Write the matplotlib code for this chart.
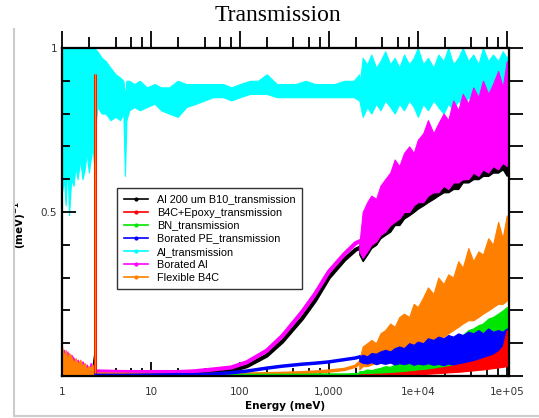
import matplotlib
matplotlib.use("Agg")
import matplotlib.pyplot as plt
from matplotlib.lines import Line2D

# ---- data (energy in meV, transmission) ----
# low-energy part, E = 1 .. 2.3 meV
e_lo = [1.0, 1.05, 1.1, 1.15, 1.2, 1.27, 1.35, 1.42, 1.5, 1.6, 1.7, 1.8, 1.9, 2.0, 2.1, 2.2, 2.3]
orange_lo = [0.09, 0.06, 0.08, 0.05, 0.07, 0.06, 0.04, 0.055, 0.035, 0.05, 0.03, 0.04, 0.02, 0.03, 0.025, 0.035, 0.02]
magenta_lo = [0.07, 0.08, 0.06, 0.075, 0.05, 0.065, 0.055, 0.04, 0.05, 0.03, 0.045, 0.03, 0.035, 0.02, 0.04, 0.02, 0.03]
black_lo = [0.02, 0.015, 0.02, 0.01, 0.015, 0.01, 0.012, 0.01, 0.015, 0.01, 0.012, 0.01, 0.015, 0.01, 0.02, 0.03, 0.07]
cyan_lo_min = [0.56, 0.60, 0.52, 0.65, 0.49, 0.60, 0.58, 0.64, 0.60, 0.66, 0.60, 0.63, 0.68, 0.62, 0.66, 0.70, 0.64]

# narrow resonance spike (B4C+Epoxy / Flexible B4C)
spike_e = 2.35
spike_top = 0.92

# cyan (Al) between the spike and 2.2 eV
e_mid = [2.3, 2.5, 2.8, 3.1, 3.5, 4.0, 4.5, 4.9, 5.1, 5.3, 5.7, 6.5, 7.5, 9, 11, 13, 16, 20, 25, 32,
         40, 50, 65, 80, 100, 130, 160, 200, 260, 330, 420, 550, 700, 900, 1150, 1500, 1900, 2200]
cyan_mid_max = [1.0, 0.99, 0.97, 0.96, 0.94, 0.92, 0.91, 0.90, 0.85, 0.90, 0.90, 0.89, 0.90, 0.88, 0.89, 0.88, 0.88, 0.90, 0.89, 0.89,
                0.89, 0.89, 0.89, 0.88, 0.89, 0.90, 0.90, 0.92, 0.89, 0.89, 0.89, 0.90, 0.89, 0.89, 0.89, 0.90, 0.90, 0.92]
cyan_mid_min = [0.72, 0.82, 0.80, 0.80, 0.78, 0.79, 0.78, 0.80, 0.61, 0.78, 0.81, 0.82, 0.81, 0.82, 0.83, 0.81, 0.80, 0.79, 0.82, 0.83,
                0.84, 0.85, 0.85, 0.84, 0.85, 0.86, 0.86, 0.86, 0.85, 0.85, 0.85, 0.85, 0.85, 0.85, 0.85, 0.85, 0.85, 0.84]

# smooth rising part, 2.4 meV .. 2.2 eV
e_rise = [2.4, 5, 10, 20, 30, 50, 80, 120, 200, 300, 500, 700, 1000, 1500, 2000, 2200]
black_rise = [0.008, 0.006, 0.005, 0.005, 0.006, 0.010, 0.016, 0.030, 0.062, 0.105, 0.175, 0.230, 0.300, 0.355, 0.385, 0.390]
magenta_rise = [0.014, 0.012, 0.012, 0.012, 0.014, 0.020, 0.026, 0.042, 0.077, 0.122, 0.195, 0.250, 0.318, 0.372, 0.405, 0.410]
orange_rise = [0.006, 0.005, 0.004, 0.004, 0.004, 0.005, 0.005, 0.006, 0.007, 0.008, 0.010, 0.012, 0.015, 0.020, 0.030, 0.040]
blue_rise = [0.002, 0.002, 0.003, 0.004, 0.004, 0.006, 0.010, 0.015, 0.024, 0.030, 0.036, 0.039, 0.043, 0.050, 0.055, 0.058]
green_rise = [0.002, 0.002, 0.002, 0.002, 0.002, 0.002, 0.002, 0.003, 0.003, 0.003, 0.003, 0.004, 0.004, 0.004, 0.005, 0.006]

# noisy high-energy part, 2.2 eV .. 100 eV (band min / max)
e_hi = [2200, 2400, 2700, 3000, 3400, 3800, 4300, 4900, 5500, 6200, 7000, 8000, 9000, 1.0e4, 1.15e4, 1.3e4, 1.5e4,
        1.7e4, 1.95e4, 2.2e4, 2.5e4, 2.85e4, 3.2e4, 3.7e4, 4.2e4, 4.8e4, 5.4e4, 6.2e4, 7e4, 8e4, 9e4, 1.0e5, 1.05e5]
cyan_max = [0.88, 0.97, 0.95, 0.98, 0.94, 0.96, 0.99, 0.95, 0.97, 0.94, 0.98, 0.95, 0.97, 1.0, 0.95, 0.97, 0.94,
            0.98, 0.96, 1.0, 0.95, 0.97, 1.0, 0.96, 0.98, 0.95, 1.0, 0.96, 0.98, 0.96, 0.99, 0.97, 0.98]
cyan_min = [0.84, 0.79, 0.82, 0.80, 0.83, 0.81, 0.84, 0.82, 0.80, 0.83, 0.81, 0.84, 0.82, 0.79, 0.83, 0.81, 0.84,
            0.82, 0.80, 0.83, 0.81, 0.84, 0.82, 0.85, 0.83, 0.84, 0.82, 0.85, 0.83, 0.85, 0.84, 0.86, 0.85]
magenta_max = [0.40, 0.50, 0.53, 0.55, 0.54, 0.58, 0.60, 0.62, 0.66, 0.64, 0.68, 0.70, 0.68, 0.72, 0.74, 0.78, 0.74,
               0.77, 0.80, 0.78, 0.84, 0.81, 0.86, 0.83, 0.88, 0.85, 0.90, 0.86, 0.89, 0.93, 0.88, 0.96, 0.90]
magenta_min = [0.38, 0.36, 0.38, 0.40, 0.41, 0.43, 0.44, 0.46, 0.47, 0.48, 0.50, 0.50, 0.52, 0.53, 0.53, 0.55, 0.56,
               0.56, 0.58, 0.57, 0.59, 0.59, 0.60, 0.60, 0.62, 0.61, 0.63, 0.62, 0.64, 0.63, 0.65, 0.64, 0.66]
black_max = [0.40, 0.42, 0.44, 0.46, 0.47, 0.50, 0.51, 0.53, 0.55, 0.56, 0.58, 0.59, 0.60, 0.62, 0.62, 0.64, 0.65,
             0.66, 0.67, 0.67, 0.68, 0.69, 0.70, 0.70, 0.72, 0.72, 0.73, 0.73, 0.74, 0.74, 0.75, 0.75, 0.76]
black_min = [0.37, 0.35, 0.37, 0.39, 0.40, 0.42, 0.43, 0.44, 0.46, 0.46, 0.48, 0.49, 0.50, 0.51, 0.52, 0.53, 0.54,
             0.55, 0.56, 0.56, 0.57, 0.57, 0.59, 0.59, 0.60, 0.60, 0.61, 0.61, 0.62, 0.62, 0.63, 0.61, 0.64]
orange_max = [0.05, 0.09, 0.10, 0.11, 0.10, 0.13, 0.14, 0.16, 0.15, 0.18, 0.19, 0.18, 0.22, 0.21, 0.24, 0.27, 0.25,
              0.30, 0.28, 0.31, 0.30, 0.35, 0.33, 0.39, 0.35, 0.38, 0.37, 0.42, 0.40, 0.47, 0.42, 0.49, 0.43]
orange_min = [0.02, 0.03, 0.03, 0.035, 0.04, 0.04, 0.045, 0.05, 0.05, 0.055, 0.06, 0.065, 0.07, 0.075, 0.08, 0.09, 0.10,
              0.11, 0.12, 0.13, 0.14, 0.15, 0.16, 0.17, 0.17, 0.18, 0.19, 0.20, 0.21, 0.22, 0.22, 0.23, 0.24]
blue_max = [0.058, 0.065, 0.060, 0.070, 0.068, 0.075, 0.080, 0.075, 0.085, 0.090, 0.085, 0.100, 0.095, 0.105, 0.100, 0.115, 0.110,
            0.120, 0.115, 0.125, 0.120, 0.130, 0.125, 0.135, 0.130, 0.140, 0.130, 0.145, 0.135, 0.140, 0.135, 0.145, 0.140]
blue_min = [0.045, 0.040, 0.038, 0.042, 0.036, 0.040, 0.037, 0.041, 0.035, 0.039, 0.036, 0.040, 0.034, 0.038, 0.035, 0.039, 0.034,
            0.037, 0.033, 0.038, 0.034, 0.036, 0.033, 0.037, 0.034, 0.036, 0.033, 0.036, 0.034, 0.037, 0.035, 0.036, 0.035]
green_max = [0.015, 0.015, 0.020, 0.018, 0.022, 0.025, 0.030, 0.028, 0.035, 0.038, 0.042, 0.050, 0.048, 0.055, 0.060, 0.070, 0.075,
             0.085, 0.090, 0.100, 0.110, 0.120, 0.125, 0.140, 0.145, 0.155, 0.160, 0.175, 0.180, 0.190, 0.200, 0.210, 0.205]
green_min = [0.004, 0.004, 0.005, 0.005, 0.006, 0.006, 0.007, 0.008, 0.009, 0.010, 0.011, 0.012, 0.013, 0.015, 0.016, 0.018, 0.020,
             0.022, 0.024, 0.026, 0.028, 0.030, 0.032, 0.035, 0.037, 0.040, 0.042, 0.045, 0.048, 0.050, 0.053, 0.055, 0.057]
red_max = [0.005, 0.005, 0.006, 0.006, 0.007, 0.007, 0.008, 0.009, 0.010, 0.011, 0.012, 0.014, 0.015, 0.017, 0.018, 0.020, 0.022,
           0.025, 0.027, 0.030, 0.032, 0.035, 0.038, 0.042, 0.045, 0.050, 0.055, 0.060, 0.065, 0.075, 0.090, 0.140, 0.100]
red_min = [0.001, 0.001, 0.001, 0.001, 0.002, 0.002, 0.002, 0.003, 0.003, 0.003, 0.004, 0.004, 0.005, 0.005, 0.006, 0.007, 0.008,
           0.009, 0.010, 0.011, 0.012, 0.013, 0.014, 0.016, 0.017, 0.019, 0.020, 0.022, 0.024, 0.026, 0.028, 0.030, 0.032]

labels = ["Al 200 um B10_transmission", "B4C+Epoxy_transmission", "BN_transmission",
          "Borated PE_transmission", "Al_transmission", "Borated Al", "Flexible B4C"]
colors = ["#000000", "#ff0000", "#00e600", "#0000ff", "#00ffff", "#ff00ff", "#ff8000"]
BLACK, RED, GREEN, BLUE, CYAN, MAGENTA, ORANGE = colors

x_ticks = [1, 10, 100, 1000, 1e4, 1e5]
x_ticklabels = ["1", "10", "100", "1,000", "1e+04", "1e+05"]


def band(ax, x, lo, hi, c, z):
    ax.fill_between(x, lo, hi, color=c, lw=0.8, edgecolor=c, zorder=z)


fig = plt.figure(figsize=(5.39, 4.18), dpi=100)
ax = fig.add_axes([62 / 539, 1 - 376 / 418, 447 / 539, 328 / 418])

# cyan - Al
band(ax, e_lo, cyan_lo_min, [1.0] * len(e_lo), CYAN, 1)
band(ax, e_mid, cyan_mid_min, cyan_mid_max, CYAN, 1)
band(ax, e_hi, cyan_min, cyan_max, CYAN, 1)

# black / magenta
band(ax, e_lo, [0] * len(e_lo), black_lo, BLACK, 2)
ax.plot(e_rise, black_rise, color=BLACK, lw=3, zorder=2)
band(ax, e_hi, black_min, black_max, BLACK, 2)
band(ax, e_lo, [0] * len(e_lo), magenta_lo, MAGENTA, 3)
ax.plot(e_rise, magenta_rise, color=MAGENTA, lw=3, zorder=3)
band(ax, e_hi, magenta_min, magenta_max, MAGENTA, 3)

# orange - Flexible B4C
band(ax, e_lo, [0] * len(e_lo), orange_lo, ORANGE, 4)
ax.plot(e_rise, orange_rise, color=ORANGE, lw=2.5, zorder=4)
band(ax, e_hi, orange_min, orange_max, ORANGE, 4)

# green, blue, red
ax.plot(e_rise, green_rise, color=GREEN, lw=2, zorder=5)
band(ax, e_hi, green_min, green_max, GREEN, 5)
ax.plot(e_rise, blue_rise, color=BLUE, lw=2.5, zorder=6)
band(ax, e_hi, blue_min, blue_max, BLUE, 6)
band(ax, e_hi, red_min, red_max, RED, 7)

# resonance spike
ax.vlines(spike_e, 0, spike_top, color=RED, lw=2.2, zorder=4)
ax.vlines(spike_e, 0, spike_top, color=ORANGE, lw=1.0, zorder=4)

ax.set_xscale("log")
ax.set_xlim(1, 1.06e5)
ax.set_ylim(0, 1)

ax.set_xticks(x_ticks)
ax.set_xticklabels(x_ticklabels)
ax.xaxis.set_minor_locator(matplotlib.ticker.LogLocator(base=10, subs=[2, 4, 6, 8]))
ax.xaxis.set_minor_formatter(matplotlib.ticker.NullFormatter())
ax.set_yticks([0.5, 1.0])
ax.set_yticklabels(["0.5", "1"])
ax.yaxis.set_minor_locator(matplotlib.ticker.MultipleLocator(0.1))

ax.tick_params(which="both", direction="in", width=1.3, colors="black", labelsize=7.5)
ax.tick_params(axis="x", which="both", pad=8)
ax.tick_params(which="major", length=10)
ax.tick_params(which="minor", length=6)
for lab in ax.get_xticklabels() + ax.get_yticklabels():
    lab.set_color("#333333")

# top / right ticks point outwards
axt = ax.twiny()
axt.set_xscale("log")
axt.set_xlim(ax.get_xlim())
axt.set_xticks(x_ticks)
axt.xaxis.set_minor_locator(matplotlib.ticker.LogLocator(base=10, subs=[2, 4, 6, 8]))
axt.tick_params(axis="x", which="both", direction="out", labeltop=False, width=1.3)
axt.tick_params(axis="x", which="major", length=12)
axt.tick_params(axis="x", which="minor", length=8)
axt.tick_params(axis="y", which="both", left=False, right=False, labelleft=False, labelright=False)
axr = ax.twinx()
axr.set_ylim(0, 1)
axr.yaxis.set_major_locator(matplotlib.ticker.MultipleLocator(0.1))
axr.yaxis.set_minor_locator(matplotlib.ticker.NullLocator())
axr.tick_params(axis="y", direction="out", labelright=False, length=10, width=1.3)
axr.tick_params(axis="x", which="both", bottom=False, top=False, labelbottom=False, labeltop=False)

for a in (ax, axt, axr):
    for s in a.spines.values():
        s.set_linewidth(1.5)

ax.set_xlabel("Energy (meV)", fontsize=7.5, fontweight="bold")
ax.xaxis.set_label_coords(0.5, -0.075)
ax.set_ylabel(r"(meV)$^{\mathbf{-1}}$", fontsize=7.5, fontweight="bold")
ax.yaxis.set_label_coords(-0.075, 0.46)

fig.text(0.515, 0.962, "Transmission", ha="center", va="center",
         family="Liberation Serif", fontsize=17)

handles = [Line2D([], [], color=c, lw=1.2, marker=".", markersize=4) for c in colors]
leg = ax.legend(handles, labels, loc="upper left", bbox_to_anchor=(117 / 539, 1 - 188 / 418),
                bbox_transform=fig.transFigure, borderaxespad=0, fancybox=False,
                prop={"family": "Liberation Sans", "size": 7.8}, handlelength=2.3,
                labelspacing=0.28, borderpad=0.6, handletextpad=0.8, framealpha=1)
leg.get_frame().set_edgecolor("#333333")
leg.get_frame().set_linewidth(1.0)
leg.set_zorder(20)

# faint panel border at left / bottom
fig.add_artist(Line2D([14 / 539, 14 / 539], [0.004, 0.93], color="#cccccc", lw=1.5))
fig.add_artist(Line2D([14 / 539, 1], [0.004, 0.004], color="#cccccc", lw=1.5))

fig.savefig("out.png", dpi=100)
